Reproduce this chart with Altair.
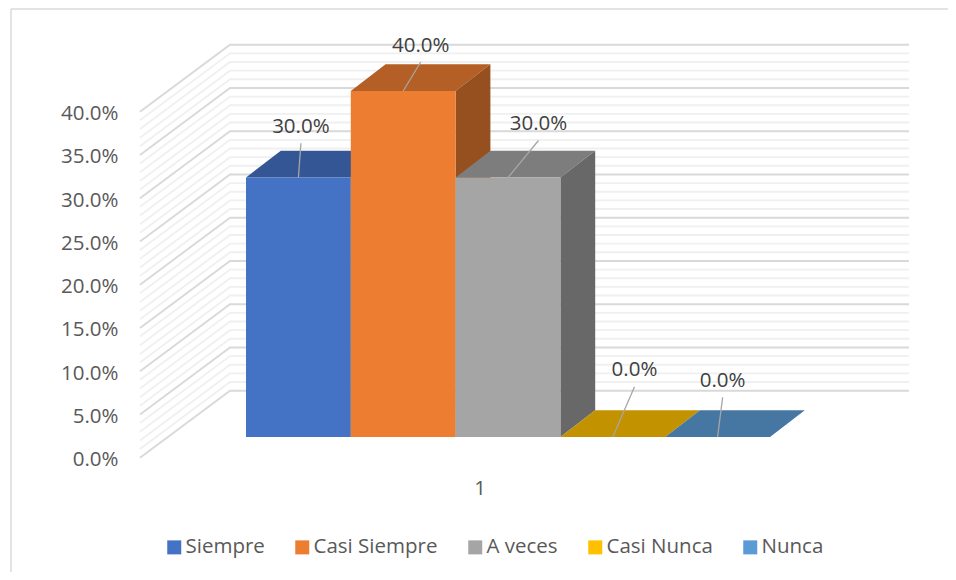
import altair as alt
import pandas as pd

# ---- chart values ----
series = ["Siempre", "Casi Siempre", "A veces", "Casi Nunca", "Nunca"]
values = [0.30, 0.40, 0.30, 0.0, 0.0]
front_colors = ["#4472C4", "#ED7D31", "#A5A5A5", "#FFC000", "#5B9BD5"]
top_colors = ["#345695", "#B45F25", "#7D7D7D", "#C29200", "#4676A2"]
side_colors = ["#2A4578", "#964F1E", "#686868", "#9C7500", "#385F83"]
axis_ticks = [0.0, 0.05, 0.10, 0.15, 0.20, 0.25, 0.30, 0.35, 0.40]
minor_ticks = [i / 100 for i in range(41) if i % 5]
category_label = "1"

# ---- projection / layout settings ----
W, H = 940, 564
FONT = "Open Sans"
FS = 20.5
PX_SLOT = 104.8          # bar width in px = one x unit
PX_VAL = 865.0           # px per 100 %
BAR_X0 = 246 - 8         # first bar's left edge in chart px
ZERO_Y = 457.7 - 8       # axis plane zero in chart px
DEPTH_X = 34.8 / PX_SLOT
DEPTH_Y = 26.7 / PX_VAL
FRONT_RISE = 20.7 / PX_VAL   # bar front plane above the axis plane
WALL_RISE = 67.0 / PX_VAL    # back wall above the axis plane
WALL_X0 = (140 - 8 - BAR_X0) / PX_SLOT
WALL_X1 = (230 - 8 - BAR_X0) / PX_SLOT
WALL_X2 = (909 - 8 - BAR_X0) / PX_SLOT
# leader-line end relative to the bar's front top centre (x units, y units)
leader_dx = [2.5 / PX_SLOT, 17.5 / PX_SLOT, 30.5 / PX_SLOT, 21.7 / PX_SLOT, 5.0 / PX_SLOT]
leader_dy = [34.3 / PX_VAL, 29.0 / PX_VAL, 37.0 / PX_VAL, 50.3 / PX_VAL, 39.7 / PX_VAL]
label_gap = 17.5 / PX_VAL

x_scale = alt.Scale(domain=[-BAR_X0 / PX_SLOT, (W - BAR_X0) / PX_SLOT], range=[0, W], nice=False, zero=False)
y_scale = alt.Scale(domain=[(ZERO_Y - H) / PX_VAL, ZERO_Y / PX_VAL], range=[H, 0], nice=False, zero=False)
y_axis = alt.Axis(
    values=axis_ticks, format=".1%", title=None, domain=False, ticks=False, grid=False,
    offset=-115, labelPadding=5, labelOffset=2, labelFont=FONT, labelFontSize=FS, labelColor="#595959",
)
X = alt.X("x:Q", scale=x_scale, axis=None)
Y = alt.Y("y:Q", scale=y_scale, axis=y_axis)

layers = []


def wall_rows(levels):
    rows = []
    for v in levels:
        rows.append({"v": v, "x": WALL_X0, "y": v})
        rows.append({"v": v, "x": WALL_X1, "y": v + WALL_RISE})
        rows.append({"v": v, "x": WALL_X2, "y": v + WALL_RISE})
    return pd.DataFrame(rows)


layers.append(alt.Chart(wall_rows(minor_ticks)).mark_line(color="#F0F0F0", strokeWidth=1.9).encode(x=X, y=Y, detail="v:N"))
layers.append(alt.Chart(wall_rows(axis_ticks)).mark_line(color="#D9D9D9", strokeWidth=1.9).encode(x=X, y=Y, detail="v:N"))

color_enc = alt.Color(
    "series:N",
    scale=alt.Scale(domain=series, range=front_colors),
    legend=alt.Legend(
        title=None, orient="none", direction="horizontal", columns=5, legendX=156, legendY=529,
        symbolType="square", symbolSize=196, symbolStrokeWidth=0, labelFont=FONT, labelFontSize=FS,
        labelColor="#595959", columnPadding=27, labelOffset=1, padding=0, rowPadding=0,
    ),
)

# bars, painted left to right
for i, name in enumerate(series):
    v = values[i]
    x0, x1 = float(i), float(i + 1)
    y0, y1 = FRONT_RISE, FRONT_RISE + v
    top = pd.DataFrame([
        {"y": y1, "x": x0, "x2": x1},
        {"y": y1 + DEPTH_Y, "x": x0 + DEPTH_X, "x2": x1 + DEPTH_X},
    ])
    layers.append(alt.Chart(top).mark_area(orient="horizontal", color=top_colors[i]).encode(
        x=X, x2="x2:Q", y=Y))
    if v > 0:
        side = pd.DataFrame([
            {"x": x1, "y": y0, "y2": y1},
            {"x": x1 + DEPTH_X, "y": y0 + DEPTH_Y, "y2": y1 + DEPTH_Y},
        ])
        layers.append(alt.Chart(side).mark_area(orient="vertical", color=side_colors[i]).encode(
            x=X, y=Y, y2="y2:Q"))
    front = pd.DataFrame([{"series": name, "x": x0, "x2": x1, "y": y1, "y2": y0}])
    layers.append(alt.Chart(front).mark_rect(opacity=1 if v > 0 else 0).encode(
        x=X, x2="x2:Q", y=Y, y2="y2:Q", color=color_enc))

# leader lines and data labels
lead_rows, label_rows = [], []
for i, v in enumerate(values):
    cx = i + 0.5
    y1 = FRONT_RISE + v
    lead_rows.append({"i": i, "x": cx, "y": y1})
    lead_rows.append({"i": i, "x": cx + leader_dx[i], "y": y1 + leader_dy[i]})
    label_rows.append({"x": cx + leader_dx[i], "y": y1 + leader_dy[i] + label_gap, "label": f"{v:.1%}"})

layers.append(alt.Chart(pd.DataFrame(lead_rows)).mark_line(color="#A6A6A6", strokeWidth=1.3).encode(
    x=X, y=Y, detail="i:N"))
layers.append(alt.Chart(pd.DataFrame(label_rows)).mark_text(
    font=FONT, fontSize=FS, color="#404040", align="center", baseline="middle", dy=1
).encode(x=X, y=Y, text="label:N"))

# category label
cat = pd.DataFrame({"x": [(480 - 8 - BAR_X0) / PX_SLOT], "y": [(ZERO_Y - (489 - 8)) / PX_VAL], "label": [category_label]})
layers.append(alt.Chart(cat).mark_text(
    font=FONT, fontSize=FS, color="#595959", align="center", baseline="middle"
).encode(x=X, y=Y, text="label:N"))

# border
border = alt.Chart(pd.DataFrame({"k": [0]}))
layers.append(border.mark_rule(color="#DADADA", strokeWidth=1.5).encode(x=alt.value(3), x2=alt.value(W), y=alt.value(1)))
layers.append(border.mark_rule(color="#DADADA", strokeWidth=1.5).encode(x=alt.value(3), y=alt.value(1), y2=alt.value(H)))

chart = alt.layer(*layers).properties(
    width=W, height=H, padding=0, autosize=alt.AutoSizeParams(type="none"), background="white"
).configure_view(stroke=None)

chart.save("out.html", embed_options={"renderer": "svg", "actions": False})
